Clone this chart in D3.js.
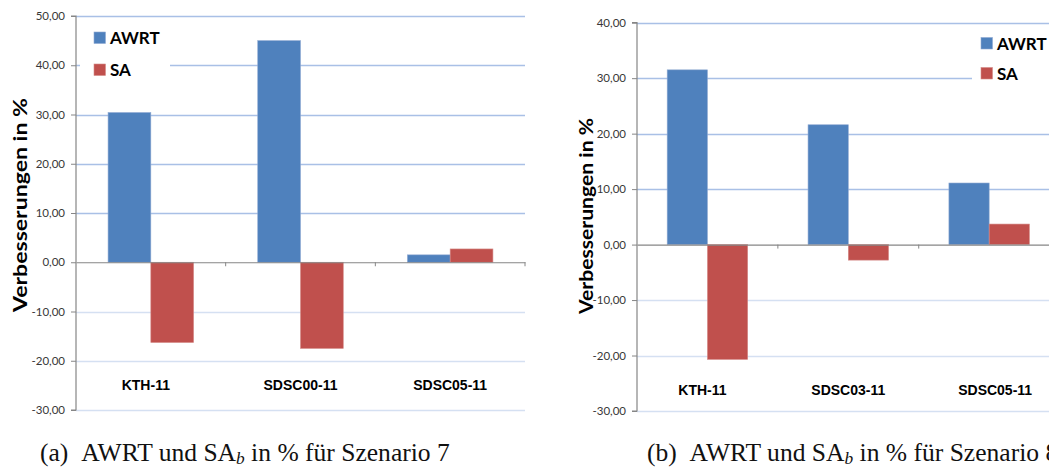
<!DOCTYPE html>
<html>
<head>
<meta charset="utf-8">
<script src="https://cdn.jsdelivr.net/npm/d3@7"></script>
<style>
  html, body { margin: 0; padding: 0; background: #fff; }
  svg { display: block; }
</style>
</head>
<body>
<svg id="fig" width="1049" height="468"></svg>
<script>
// Improvement (%) per workload for two scenarios
const seriesNames = ["AWRT", "SA"];
const seriesColors = ["#4f81bd", "#c0504d"];

const categoriesA = ["KTH-11", "SDSC00-11", "SDSC05-11"];
const awrtA = [30.4, 45.0, 1.5];
const saA = [-16.3, -17.5, 2.7];
const ticksA = [-30, -20, -10, 0, 10, 20, 30, 40, 50];

const categoriesB = ["KTH-11", "SDSC03-11", "SDSC05-11"];
const awrtB = [31.5, 21.6, 11.1];
const saB = [-20.7, -2.8, 3.7];
const ticksB = [-30, -20, -10, 0, 10, 20, 30, 40];

const svg = d3.select("#fig");
// German decimal comma, plain hyphen for negatives
const fmt = v => d3.format(".2f")(v).replace(".", ",").replace("\u2212", "-");

// caption font size chosen so caption (a) spans the given width
let captionScale = null;

function drawPanel(cfg) {
  const g = svg.append("g");
  const y = d3.scaleLinear().domain(cfg.domain).range([cfg.bottom, cfg.top]);
  const x0 = d3.scaleBand().domain(cfg.categories).range([cfg.left, cfg.right]).padding(0);
  const bw = x0.bandwidth();
  const groupW = bw * 2 / 3.5; // gap width 150 %
  const x1 = d3.scaleBand().domain(seriesNames)
    .range([(bw - groupW) / 2, (bw + groupW) / 2]).padding(0);

  // horizontal gridlines
  g.append("g").selectAll("line").data(cfg.ticks.filter(t => t !== 0)).join("line")
    .attr("x1", cfg.left).attr("x2", cfg.right)
    .attr("y1", d => Math.round(y(d)) + 0.5).attr("y2", d => Math.round(y(d)) + 0.5)
    .attr("stroke", d => d > 0 ? "#a9c0e6" : "#d5e0f2")
    .attr("stroke-width", 1.5);

  // legend backdrop (white box over the gridlines)
  g.append("rect")
    .attr("x", cfg.legend.boxX).attr("y", cfg.legend.boxY)
    .attr("width", cfg.legend.boxW).attr("height", cfg.legend.boxH)
    .attr("fill", "#fff");

  // bars
  const rows = cfg.categories.map((c, i) => ({cat: c, vals: [cfg.awrt[i], cfg.sa[i]]}));
  const grp = g.append("g").selectAll("g").data(rows).join("g")
    .attr("transform", d => `translate(${x0(d.cat)},0)`);
  grp.selectAll("rect").data(d => d.vals.map((v, k) => ({v, k}))).join("rect")
    .attr("x", d => x1(seriesNames[d.k]))
    .attr("width", x1.bandwidth())
    .attr("y", d => Math.min(y(d.v), y(0)))
    .attr("height", d => Math.abs(y(d.v) - y(0)))
    .attr("fill", d => seriesColors[d.k])
    .attr("stroke", d => d.k === 0 ? "#8fa9d2" : "#d48a88")
    .attr("stroke-width", 0.6);

  // y axis
  const yAxis = d3.axisLeft(y).tickValues(cfg.ticks).tickSize(5).tickPadding(6).tickFormat(fmt);
  const ya = g.append("g").attr("transform", `translate(${cfg.left},0)`).call(yAxis);
  ya.select(".domain").attr("stroke", "#868686").attr("stroke-width", 1.2)
    .attr("d", `M-5,${y(cfg.domain[1])}H0V${y(cfg.domain[0])}H-5`);
  ya.selectAll(".tick line").attr("stroke", "#868686");
  ya.selectAll(".tick text")
    .attr("fill", "#383838")
    .style("font-family", "Lato, 'Open Sans', sans-serif")
    .style("font-size", cfg.tickFont + "px");

  // zero line with category boundary ticks
  const xAxis = d3.axisBottom(x0).tickSize(0).tickFormat("");
  const xa = g.append("g").attr("transform", `translate(0,${y(0)})`).call(xAxis);
  xa.select(".domain").attr("stroke", "#868686").attr("stroke-width", 1.2);
  g.append("g").selectAll("line")
    .data(cfg.categories.slice(1).map(c => x0(c)).concat([cfg.right]))
    .join("line")
    .attr("x1", d => d).attr("x2", d => d)
    .attr("y1", y(0)).attr("y2", y(0) + 4)
    .attr("stroke", "#868686");

  // category labels
  g.append("g").selectAll("text").data(cfg.categories).join("text")
    .attr("x", d => x0(d) + bw / 2 + (cfg.labelShift[d] || 0))
    .attr("y", cfg.labelY)
    .attr("text-anchor", "middle")
    .style("font-family", "'Liberation Sans', Arial, sans-serif")
    .style("font-weight", "bold")
    .style("font-size", "14px")
    .attr("fill", "#000")
    .text(d => d);

  // y title
  g.append("text")
    .attr("transform", `translate(${cfg.titleX},${cfg.titleY}) rotate(-90)`)
    .attr("text-anchor", "middle")
    .attr("dominant-baseline", "central")
    .attr("textLength", cfg.titleLen)
    .attr("lengthAdjust", "spacingAndGlyphs")
    .style("font-family", "Lato, 'Open Sans', sans-serif")
    .style("font-weight", "bold")
    .style("font-size", "19px")
    .text("Verbesserungen in %");

  // legend
  const lg = g.append("g").selectAll("g").data(seriesNames).join("g")
    .attr("transform", (d, i) => `translate(${cfg.legend.x},${cfg.legend.y + i * cfg.legend.dy})`);
  lg.append("rect")
    .attr("x", 0).attr("y", -12).attr("width", 11.5).attr("height", 11.5)
    .attr("fill", (d, i) => seriesColors[i])
    .attr("stroke", (d, i) => i === 0 ? "#8fa9d2" : "#d48a88")
    .attr("stroke-width", 0.6);
  lg.append("text")
    .attr("x", 16).attr("y", 0)
    .style("font-family", "Lato, 'Open Sans', sans-serif")
    .style("font-weight", "bold")
    .style("font-size", "17px")
    .text(d => d);

  // caption
  const base = 22;
  const cap = svg.append("text")
    .attr("x", cfg.capX).attr("y", 460.5)
    .style("font-family", "'Liberation Serif', 'DejaVu Serif', serif")
    .attr("fill", "#111");
  const t1 = cap.append("tspan").text(cfg.capTag + "\u00a0\u00a0AWRT und SA");
  const t2 = cap.append("tspan").style("font-style", "italic").text("b");
  const t3 = cap.append("tspan").text(" in % für Szenario " + cfg.capNum);
  const setSize = s => {
    cap.style("font-size", s + "px");
    t2.attr("dy", s * 0.15).style("font-size", (s * 0.68) + "px");
    t3.attr("dy", -s * 0.15);
  };
  setSize(base);
  if (captionScale === null) {
    const w = cap.node().getComputedTextLength();
    captionScale = cfg.capWidth / w;
  }
  setSize(base * captionScale);
}

drawPanel({
  categories: categoriesA, awrt: awrtA, sa: saA, ticks: ticksA,
  domain: [-30, 50], top: 16, bottom: 410, left: 76, right: 525,
  tickFont: 11.5, labelY: 390, labelShift: {"KTH-11": -5},
  titleX: 19, titleY: 205, titleLen: 214,
  legend: {x: 94, y: 44, dy: 32, boxX: 80, boxY: 22, boxW: 90, boxH: 66},
  capX: 40, capTag: "(a)", capNum: "7", capWidth: 410
});

drawPanel({
  categories: categoriesB, awrt: awrtB, sa: saB, ticks: ticksB,
  domain: [-30, 40], top: 22.7, bottom: 411, left: 637, right: 1059.6,
  tickFont: 11.5, labelY: 395, labelShift: {"KTH-11": -5, "SDSC05-11": 6},
  titleX: 585, titleY: 216, titleLen: 196,
  legend: {x: 981, y: 49.5, dy: 30, boxX: 972, boxY: 28, boxW: 90, boxH: 62},
  capX: 647, capTag: "(b)", capNum: "8", capWidth: 410
});
</script>
</body>
</html>
